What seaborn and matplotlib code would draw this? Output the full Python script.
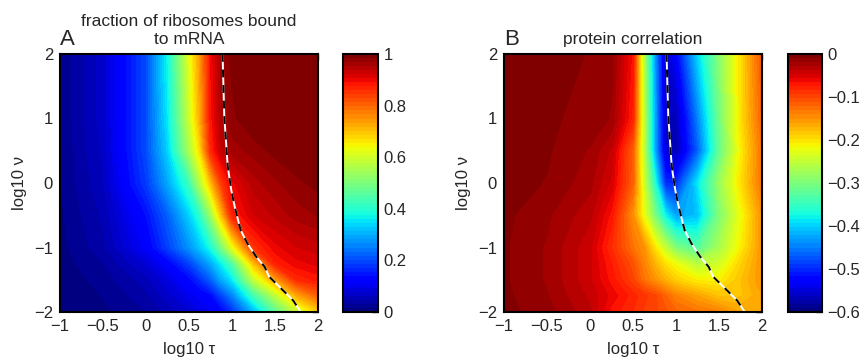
import numpy as np
import seaborn as sns
import matplotlib.pyplot as plt

# grid knots (log10 tau along x, log10 nu along y)
tau_knots = [-1, -0.5, 0, 0.25, 0.5, 0.625, 0.75, 0.875, 1, 1.25, 1.5, 1.75, 2]
nu_knots = [-2, -1.75, -1.5, -1.25, -1, -0.5, 0, 0.5, 1, 2]

# panel A: fraction of ribosomes bound, one row per nu knot (bottom to top)
bound_rows = [
    [0.003, 0.012, 0.03, 0.05, 0.075, 0.09, 0.105, 0.125, 0.17, 0.30, 0.45, 0.58, 0.68],
    [0.004, 0.016, 0.042, 0.07, 0.10, 0.115, 0.13, 0.19, 0.25, 0.42, 0.57, 0.72, 0.80],
    [0.005, 0.022, 0.055, 0.09, 0.13, 0.17, 0.22, 0.29, 0.35, 0.58, 0.73, 0.86, 0.88],
    [0.007, 0.03, 0.08, 0.12, 0.19, 0.24, 0.29, 0.36, 0.44, 0.70, 0.87, 0.90, 0.91],
    [0.009, 0.042, 0.115, 0.19, 0.27, 0.32, 0.38, 0.49, 0.62, 0.85, 0.90, 0.92, 0.93],
    [0.012, 0.05, 0.14, 0.22, 0.33, 0.40, 0.53, 0.70, 0.87, 0.92, 0.94, 0.96, 0.97],
    [0.015, 0.06, 0.185, 0.29, 0.42, 0.56, 0.70, 0.84, 0.90, 0.945, 0.965, 0.98, 0.99],
    [0.016, 0.065, 0.20, 0.33, 0.55, 0.67, 0.86, 0.93, 0.96, 0.975, 0.99, 1.0, 1.0],
    [0.016, 0.07, 0.20, 0.35, 0.59, 0.72, 0.88, 0.95, 0.98, 1.0, 1.0, 1.0, 1.0],
    [0.016, 0.07, 0.20, 0.37, 0.62, 0.74, 0.89, 0.96, 0.99, 1.0, 1.0, 1.0, 1.0],
]

# panel B: protein correlation, same layout
corr_rows = [
    [-0.006, -0.015, -0.035, -0.07, -0.085, -0.095, -0.10, -0.11, -0.12, -0.13, -0.14, -0.16, -0.16],
    [-0.007, -0.018, -0.04, -0.06, -0.08, -0.09, -0.10, -0.12, -0.14, -0.16, -0.18, -0.18, -0.16],
    [-0.008, -0.02, -0.045, -0.07, -0.10, -0.13, -0.15, -0.17, -0.19, -0.21, -0.21, -0.18, -0.15],
    [-0.008, -0.02, -0.045, -0.075, -0.11, -0.14, -0.17, -0.20, -0.22, -0.26, -0.24, -0.19, -0.15],
    [-0.008, -0.02, -0.045, -0.085, -0.13, -0.15, -0.20, -0.25, -0.30, -0.33, -0.27, -0.21, -0.15],
    [-0.007, -0.017, -0.035, -0.07, -0.15, -0.22, -0.30, -0.38, -0.43, -0.41, -0.30, -0.22, -0.15],
    [-0.005, -0.01, -0.025, -0.05, -0.12, -0.24, -0.36, -0.50, -0.50, -0.39, -0.28, -0.20, -0.13],
    [-0.005, -0.008, -0.02, -0.04, -0.12, -0.25, -0.42, -0.55, -0.57, -0.47, -0.32, -0.21, -0.13],
    [-0.005, -0.008, -0.012, -0.02, -0.08, -0.25, -0.42, -0.56, -0.57, -0.45, -0.31, -0.20, -0.12],
    [-0.005, -0.005, -0.01, -0.015, -0.07, -0.26, -0.43, -0.56, -0.53, -0.40, -0.29, -0.20, -0.11],
]

# dashed boundary curve
line_tau = [0.89, 0.91, 0.95, 0.99, 1.03, 1.10, 1.18, 1.28, 1.38, 1.43, 1.59, 1.71, 1.80]
line_nu = [2.0, 1.04, 0.26, -0.10, -0.36, -0.73, -0.94, -1.14, -1.30, -1.45, -1.66, -1.82, -2.0]

x_ticks = [-1, -0.5, 0, 0.5, 1, 1.5, 2]
x_ticklabels = ["\u22121", "\u22120.5", "0", "0.5", "1", "1.5", "2"]
y_ticks = [-2, -1, 0, 1, 2]
y_ticklabels = ["\u22122", "\u22121", "0", "1", "2"]
cbar_a_ticks = [0, 0.2, 0.4, 0.6, 0.8, 1]
cbar_a_labels = ["0", "0.2", "0.4", "0.6", "0.8", "1"]
cbar_b_ticks = [0, -0.1, -0.2, -0.3, -0.4, -0.5, -0.6]
cbar_b_labels = ["0", "\u22120.1", "\u22120.2", "\u22120.3", "\u22120.4", "\u22120.5", "\u22120.6"]

FS = 12


def style_axes(ax):
    ax.set_xlim(-1, 2)
    ax.set_ylim(-2, 2)
    ax.set_xticks(x_ticks)
    ax.set_xticklabels(x_ticklabels)
    ax.set_yticks(y_ticks)
    ax.set_yticklabels(y_ticklabels)
    ax.tick_params(direction="in", length=4, width=1, top=True, right=True,
                   labelsize=FS, pad=5)
    for sp in ax.spines.values():
        sp.set_visible(True)
        sp.set_linewidth(1.5)
        sp.set_color("black")
    ax.set_xlabel("log10 \u03c4", fontsize=FS, labelpad=6)
    ax.set_ylabel("log10 \u03bd", fontsize=FS, labelpad=5)


def draw_panel(fig, ax, cax, rows, vmin, vmax, cticks, clabels):
    cmap = plt.get_cmap("jet", 64)
    levels = np.linspace(vmin, vmax, 65)
    z = np.clip(np.array(rows), vmin, vmax)
    cs = ax.contourf(tau_knots, nu_knots, z, levels=levels, cmap=cmap,
                     vmin=vmin, vmax=vmax)
    cs.set_edgecolor("face")
    cs.set_linewidth(0.3)

    # white base, black dashes on top
    sns.lineplot(x=line_tau, y=line_nu, sort=False, estimator=None, ax=ax,
                 color="white", linewidth=1.4)
    sns.lineplot(x=line_tau, y=line_nu, sort=False, estimator=None, ax=ax,
                 color="black", linewidth=1.4, dashes=False, linestyle=(0, (4, 4)))
    style_axes(ax)

    cb = fig.colorbar(cs, cax=cax, ticks=cticks)
    cb.ax.set_yticklabels(clabels)
    cb.ax.tick_params(direction="in", length=4, width=1, labelsize=FS, pad=4)
    cb.outline.set_linewidth(1.5)
    cb.outline.set_edgecolor("black")
    cb.ax.set_ylim(vmin, vmax)


def main():
    sns.set_theme(style="white")
    plt.rcParams["font.family"] = ["Liberation Sans", "DejaVu Sans"]

    fig = plt.figure(figsize=(8.65, 3.6), dpi=100)
    ax_a = fig.add_axes([60 / 865, 48 / 360, 258 / 865, 258 / 360])
    cax_a = fig.add_axes([343 / 865, 48 / 360, 35 / 865, 258 / 360])
    ax_b = fig.add_axes([504 / 865, 48 / 360, 258 / 865, 258 / 360])
    cax_b = fig.add_axes([788 / 865, 48 / 360, 34 / 865, 258 / 360])

    draw_panel(fig, ax_a, cax_a, bound_rows, 0, 1, cbar_a_ticks, cbar_a_labels)
    draw_panel(fig, ax_b, cax_b, corr_rows, -0.6, 0, cbar_b_ticks, cbar_b_labels)

    ax_a.set_title("fraction of ribosomes bound\nto mRNA", fontsize=12.5, pad=7,
                   linespacing=1.3)
    ax_b.set_title("protein correlation", fontsize=12.5, pad=7)
    ax_a.text(0.0, 1.015, "A", transform=ax_a.transAxes, fontsize=16,
              ha="left", va="bottom")
    ax_b.text(0.0, 1.015, "B", transform=ax_b.transAxes, fontsize=16,
              ha="left", va="bottom")

    fig.savefig("out.png", dpi=100)
    plt.close(fig)


if __name__ == "__main__":
    main()
